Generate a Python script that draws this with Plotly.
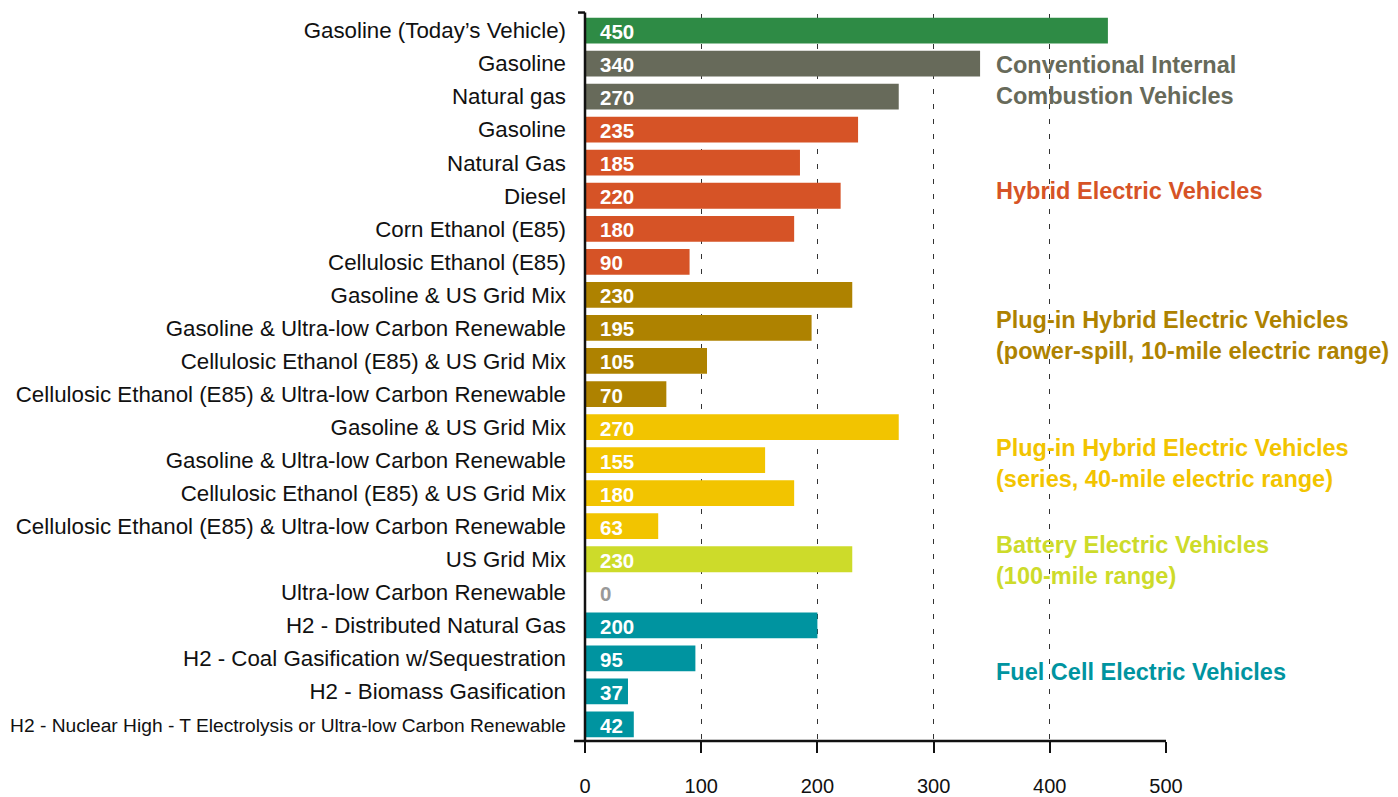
import plotly.graph_objects as go

categories = [
    "Gasoline (Today’s Vehicle)",
    "Gasoline",
    "Natural gas",
    "Gasoline",
    "Natural Gas",
    "Diesel",
    "Corn Ethanol (E85)",
    "Cellulosic Ethanol (E85)",
    "Gasoline & US Grid Mix",
    "Gasoline & Ultra-low Carbon Renewable",
    "Cellulosic Ethanol (E85) & US Grid Mix",
    "Cellulosic Ethanol (E85) & Ultra-low Carbon Renewable",
    "Gasoline & US Grid Mix",
    "Gasoline & Ultra-low Carbon Renewable",
    "Cellulosic Ethanol (E85) & US Grid Mix",
    "Cellulosic Ethanol (E85) & Ultra-low Carbon Renewable",
    "US Grid Mix",
    "Ultra-low Carbon Renewable",
    "H2 - Distributed Natural Gas",
    "H2 - Coal Gasification w/Sequestration",
    "H2 - Biomass Gasification",
    "H2 - Nuclear High - T Electrolysis or Ultra-low Carbon Renewable",
]
values = [450, 340, 270, 235, 185, 220, 180, 90, 230, 195, 105, 70, 270, 155, 180, 63, 230, 0, 200, 95, 37, 42]
groups = ["today", "ice", "ice", "hev", "hev", "hev", "hev", "hev",
          "phev10", "phev10", "phev10", "phev10",
          "phev40", "phev40", "phev40", "phev40",
          "bev", "bev", "fcev", "fcev", "fcev", "fcev"]
group_colors = {
    "today": "#2e8b45",
    "ice": "#676a5a",
    "hev": "#d65326",
    "phev10": "#ae8200",
    "phev40": "#f2c400",
    "bev": "#cddb2a",
    "fcev": "#0094a0",
}
group_titles = [
    ("ice", "Conventional Internal<br>Combustion Vehicles", 1.5),
    ("hev", "Hybrid Electric Vehicles", 4.85),
    ("phev10", "Plug-in Hybrid Electric Vehicles<br>(power-spill, 10-mile electric range)", 9.23),
    ("phev40", "Plug-in Hybrid Electric Vehicles<br>(series, 40-mile electric range)", 13.1),
    ("bev", "Battery Electric Vehicles<br>(100-mile range)", 16.05),
    ("fcev", "Fuel Cell Electric Vehicles", 19.4),
]
x_ticks = [0, 100, 200, 300, 400, 500]

idx = list(range(len(categories)))
colors = [group_colors[g] for g in groups]

fig = go.Figure()
fig.add_trace(go.Bar(
    x=values, y=idx, orientation="h",
    marker=dict(color=colors, line=dict(width=0)),
    width=0.78, hoverinfo="skip",
))

font_label = "Liberation Sans, Arial, sans-serif"
ticktext = []
for c in categories:
    if len(c) > 55:
        ticktext.append('<span style="font-size:19.2px">' + c + '</span>')
    else:
        ticktext.append(c)

annotations = []
for i, v in zip(idx, values):
    annotations.append(dict(
        x=0, y=i, xref="x", yref="y", text="<b>%d</b>" % v,
        showarrow=False, xanchor="left", yanchor="middle", xshift=13, yshift=-1,
        font=dict(family=font_label, size=20.5, color="#ffffff" if v > 0 else "#999999"),
    ))
for g, title, ypos in group_titles:
    annotations.append(dict(
        x=352, y=ypos, xref="x", yref="y", text="<b>" + title + "</b>",
        showarrow=False, xanchor="left", yanchor="middle", align="left",
        font=dict(family=font_label, size=23.5, color=group_colors[g]),
    ))

fig.update_layout(
    width=1390, height=789,
    margin=dict(l=577, r=232, t=5.5, b=55.5, autoexpand=False),
    paper_bgcolor="white", plot_bgcolor="white",
    showlegend=False,
    bargap=0.22,
    annotations=annotations,
    font=dict(family=font_label, color="#111111"),
)
fig.update_yaxes(
    tickmode="array", tickvals=idx, ticktext=ticktext,
    autorange=False, range=[len(categories) - 0.5, -0.5],
    showgrid=False, zeroline=False, showline=False, ticks="",
    automargin=False,
    ticklabelstandoff=18,
    tickfont=dict(family=font_label, size=22.3, color="#111111"),
)
fig.update_xaxes(
    range=[0, 500], tickmode="array", tickvals=x_ticks,
    ticktext=[str(t) for t in x_ticks],
    showgrid=True, gridcolor="#333333", gridwidth=1, griddash="5px,10px",
    zeroline=False, showline=False, automargin=False,
    ticks="outside", ticklen=11, tickwidth=2, tickcolor="#111111",
    ticklabelstandoff=16,
    tickfont=dict(family=font_label, size=20, color="#111111"),
)
# axis lines
fig.add_shape(type="line", xref="paper", yref="paper", x0=-0.019, x1=1.0, y0=0, y1=0,
              line=dict(color="#111111", width=2.5))
fig.add_shape(type="line", xref="paper", yref="paper", x0=0, x1=0, y0=0, y1=1.002,
              line=dict(color="#111111", width=2.5))
fig.add_shape(type="line", xref="paper", yref="paper", x0=-0.012, x1=0, y0=1.002, y1=1.002,
              line=dict(color="#111111", width=2.5))

fig.write_html("out.html")
